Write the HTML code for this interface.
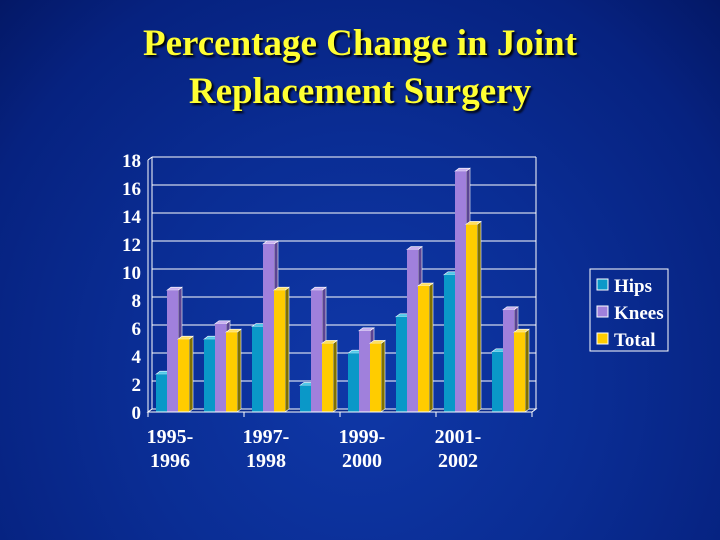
<!DOCTYPE html>
<html><head><meta charset="utf-8"><style>
html,body{margin:0;padding:0}
body{width:720px;height:540px;overflow:hidden;background:radial-gradient(ellipse at 50% 70%,#0f38a8 0%,#0a2d94 45%,#062280 80%,#041866 100%);font-family:"Liberation Serif",serif;position:relative}
#title{position:absolute;left:0;top:20px;width:720px;text-align:center;color:#ffff33;font-weight:bold;font-size:37px;line-height:48px;text-shadow:2px 2px 2px #000}
svg{position:absolute;left:0;top:0}
</style></head><body>
<div id="title">Percentage Change in Joint<br>Replacement Surgery</div>
<svg id="chart" width="720" height="540"></svg>
<script>
const categories=["1995-1996","1996-1997","1997-1998","1998-1999","1999-2000","2000-2001","2001-2002","2002-2003"];
const hips=[2.7,5.2,6.1,1.9,4.2,6.8,9.8,4.3];
const knees=[8.7,6.3,12.0,8.7,5.8,11.6,17.2,7.3];
const total=[5.2,5.7,8.7,4.9,4.9,9.0,13.4,5.7];
const yTicks=[0,2,4,6,8,10,12,14,16,18];
const xLabels=[["1995-","1996"],["1997-","1998"],["1999-","2000"],["2001-","2002"]];
const seriesNames=["Hips","Knees","Total"];
const NS="http://www.w3.org/2000/svg";
const svg=document.getElementById('chart');
const L=148,R=532,T=160,B=412,D=4,DY=3;
const y=v=>B-(v/18)*(B-T);
const gw=(R-L)/categories.length;
const x=i=>L+i*gw;
function mk(t,a,p){const e=document.createElementNS(NS,t);for(const k in a)e.setAttribute(k,a[k]);(p||svg).appendChild(e);return e;}
yTicks.forEach(v=>{
 const g=mk('line',{x1:L+D,y1:y(v)-DY,x2:R+D,y2:y(v)-DY,stroke:'#fff','stroke-width':1});
 
 const t=mk('text',{x:L-7,y:y(v)+7,'text-anchor':'end',fill:'#fff','font-size':19,'font-weight':'bold','font-family':'Liberation Serif'});
 t.textContent=v;
});
mk('line',{x1:L+D,y1:T-DY,x2:L+D,y2:B-DY,stroke:'#fff'});
mk('line',{x1:R+D,y1:T-DY,x2:R+D,y2:B-DY,stroke:'#fff'});
mk('line',{x1:L,y1:T,x2:L,y2:B,stroke:'#fff'});
mk('line',{x1:L,y1:T,x2:L+D,y2:T-DY,stroke:'#fff'});
mk('polygon',{points:`${L},${B} ${R},${B} ${R+D},${B-DY} ${L+D},${B-DY}`,fill:'#0a2a8a',stroke:'#fff','stroke-width':1});
const cols=[["#0a98c8","#06587a","#50c8e8"],["#a080dc","#5a4494","#c8b0f0"],["#ffcc00","#807000","#ffe060"]];
const bw=11;
[hips,knees,total].forEach((s,si)=>{
 s.forEach((v,i)=>{
  const x0=x(i)+8+si*bw, yt=y(v);
  const g=mk('g',{});
  
  
  mk('polygon',{points:`${x0+bw},${yt} ${x0+bw+D},${yt-DY} ${x0+bw+D},${B-DY} ${x0+bw},${B}`,fill:cols[si][1],stroke:'#fff','stroke-width':0.6},g);
  mk('polygon',{points:`${x0},${yt} ${x0+D},${yt-DY} ${x0+bw+D},${yt-DY} ${x0+bw},${yt}`,fill:cols[si][2],stroke:'#fff','stroke-width':0.6},g);
  mk('rect',{x:x0,y:yt,width:bw,height:B-yt,fill:cols[si][0]},g);
 });
});
mk('line',{x1:L,y1:B,x2:R,y2:B,stroke:'#fff'});
for(let i=0;i<=categories.length;i+=2){mk('line',{x1:x(i),y1:B,x2:x(i),y2:B+5,stroke:'#fff'});}
xLabels.forEach((lb,k)=>{
 const cx=x(k*2)+gw/2-2;
 lb.forEach((s,j)=>{
  const t=mk('text',{x:cx,y:443+j*24,'text-anchor':'middle',fill:'#fff','font-size':20,'font-weight':'bold','font-family':'Liberation Serif'});
  t.textContent=s;
 });
});
const lg=mk('g',{});

mk('rect',{x:590,y:269,width:78,height:82,fill:'none',stroke:'#fff','stroke-width':1},lg);
seriesNames.forEach((n,i)=>{
 const e=mk('g',{},lg);
 
 mk('rect',{x:597,y:279+i*27,width:11,height:11,fill:cols[i][0],stroke:'#fff','stroke-width':1},e);
 const t=mk('text',{x:614,y:292+i*27,fill:'#fff','font-size':19,'font-weight':'bold','font-family':'Liberation Serif'},e);
 t.textContent=n;
});
</script>
</body></html>
